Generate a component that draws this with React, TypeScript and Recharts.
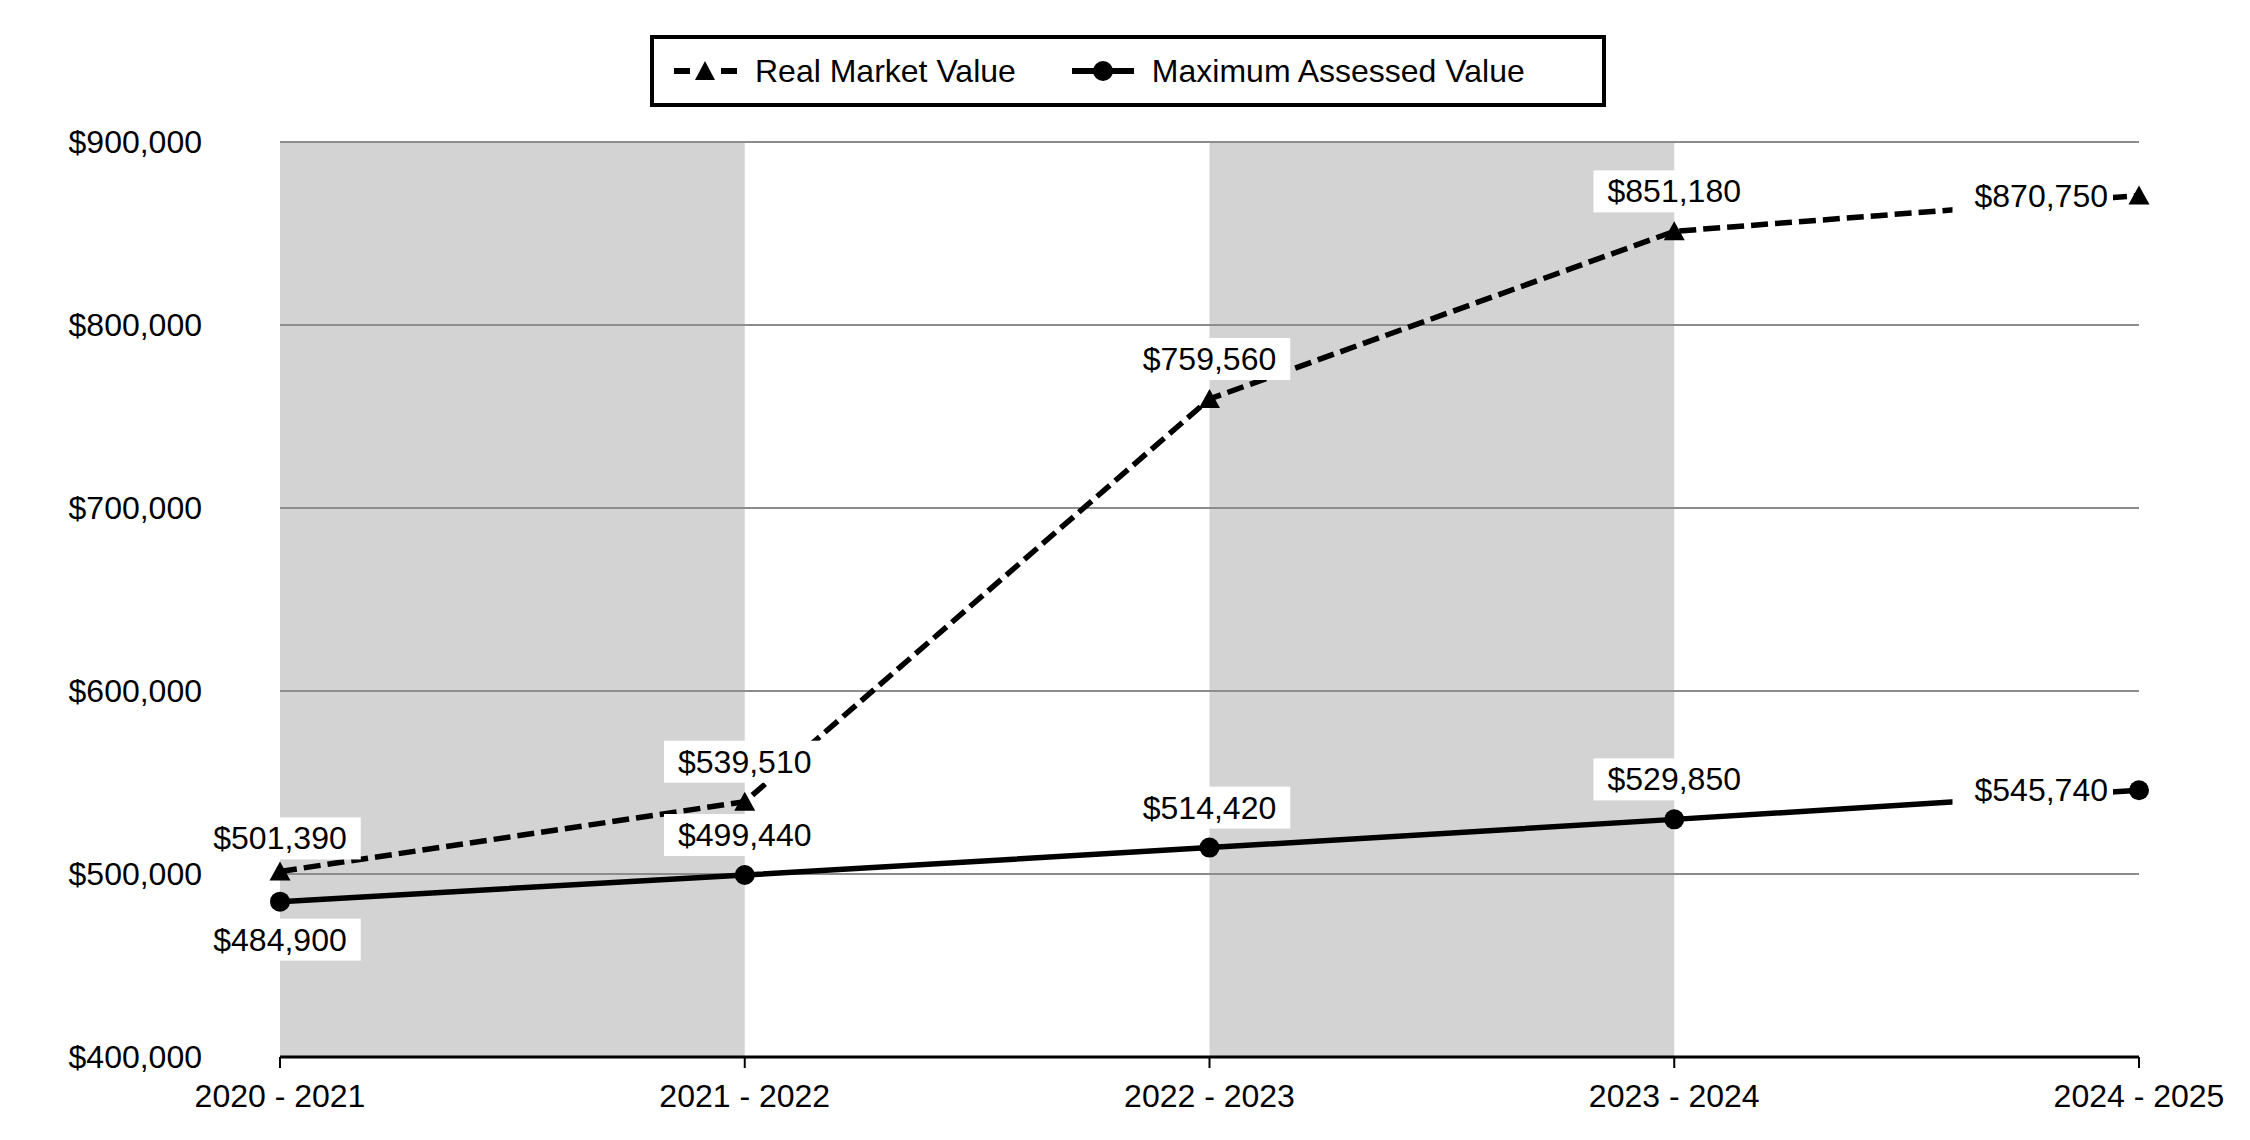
import React from 'react'
import { LineChart, Line, XAxis, YAxis, ReferenceArea, ReferenceLine, LabelList } from 'recharts'

const categories = ['2020 - 2021', '2021 - 2022', '2022 - 2023', '2023 - 2024', '2024 - 2025']
const realMarketValue = [501390, 539510, 759560, 851180, 870750]
const maxAssessedValue = [484900, 499440, 514420, 529850, 545740]
const yTicks = [400000, 500000, 600000, 700000, 800000, 900000]
const shadedBands = [
  ['2020 - 2021', '2021 - 2022'],
  ['2022 - 2023', '2023 - 2024'],
]
const seriesNames = { rmv: 'Real Market Value', mav: 'Maximum Assessed Value' }

const data = categories.map((period, i) => ({
  period,
  rmv: realMarketValue[i],
  mav: maxAssessedValue[i],
}))

const FONT = '"Liberation Sans", Arial, Helvetica, sans-serif'
const money = (v: number) => '$' + Number(v).toLocaleString('en-US')

// rough Arial widths at 32px
const textWidth = (s: string) =>
  s.split('').reduce((w, ch) => w + (ch === ',' ? 8.9 : 17.8), 0)

function Triangle(props: any) {
  const { cx, cy, index } = props
  if (cx == null || cy == null) return null
  return (
    <polygon
      key={'t' + index}
      points={`${cx},${cy - 10} ${cx + 10.5},${cy + 9} ${cx - 10.5},${cy + 9}`}
      fill="#000"
    />
  )
}

function Circle(props: any) {
  const { cx, cy, index } = props
  if (cx == null || cy == null) return null
  return <circle key={'c' + index} cx={cx} cy={cy} r={10} fill="#000" />
}

function ValueLabel(props: any) {
  const { x, y, value, index, series } = props
  const label = money(value)
  const w = textWidth(label)
  const last = index === categories.length - 1
  let cx = x
  let cy = y - 40
  let boxL = cx - w / 2 - 14
  let boxR = cx + w / 2 + 14
  if (last) {
    cy = y
    const right = x - 31
    cx = right - w / 2
    boxL = right - w - 22
    boxR = right + 5
  } else if (series === 'mav' && index === 0) {
    cy = y + 38
  } else if (series === 'rmv' && index === 0) {
    cy = y - 33
  }
  return (
    <g>
      <rect x={boxL} y={cy - 21} width={boxR - boxL} height={42} fill="#fff" />
      <text
        x={cx}
        y={cy}
        textAnchor="middle"
        dominantBaseline="central"
        fontSize={32}
        fontFamily={FONT}
        fill="#000"
      >
        {label}
      </text>
    </g>
  )
}

function LegendBox() {
  const item = (icon: React.ReactNode, text: string, gap: number) => (
    <div style={{ display: 'flex', alignItems: 'center', marginRight: gap }}>
      {icon}
      <span style={{ marginLeft: 18 }}>{text}</span>
    </div>
  )
  return (
    <div
      style={{
        position: 'absolute', left: 650, top: 35, width: 956, height: 72,
        boxSizing: 'border-box', border: '4px solid #000', background: '#fff',
        display: 'flex', alignItems: 'center', paddingLeft: 20,
        fontFamily: FONT, fontSize: 32, color: '#000', whiteSpace: 'nowrap',
      }}
    >
      {item(
        <svg width={63} height={30}>
          <rect x={0} y={12} width={16} height={6} fill="#000" />
          <polygon points="31,5 41,24 21,24" fill="#000" />
          <rect x={47} y={12} width={16} height={6} fill="#000" />
        </svg>,
        seriesNames.rmv, 56
      )}
      {item(
        <svg width={62} height={30}>
          <rect x={0} y={12} width={62} height={6} fill="#000" />
          <circle cx={31} cy={15} r={10} fill="#000" />
        </svg>,
        seriesNames.mav, 0
      )}
    </div>
  )
}

export default function App() {
  return (
    <div style={{ position: 'absolute', left: 0, top: 0, width: 2250, height: 1140, background: '#fff' }}>
      <LegendBox />
      <LineChart
        width={2250}
        height={1140}
        data={data}
        margin={{ top: 142, right: 111, bottom: 23, left: 0 }}
      >
        {shadedBands.map(([a, b]) => (
          <ReferenceArea key={a} x1={a} x2={b} fill="#d3d3d3" fillOpacity={1} stroke="none" />
        ))}
        {yTicks.slice(1).map((v) => (
          <ReferenceLine key={v} y={v} stroke="#8c8c8c" strokeWidth={2} />
        ))}
        <XAxis
          dataKey="period"
          interval={0}
          height={60}
          tickSize={11}
          tickMargin={16}
          axisLine={{ stroke: '#000', strokeWidth: 3 }}
          tickLine={{ stroke: '#000', strokeWidth: 2 }}
          tick={{ fill: '#000', fontSize: 32, fontFamily: FONT }}
        />
        <YAxis
          type="number"
          width={280}
          domain={[400000, 900000]}
          ticks={yTicks}
          tickFormatter={money}
          axisLine={false}
          tickLine={false}
          tickSize={0}
          tickMargin={78}
          tick={{ fill: '#000', fontSize: 32, fontFamily: FONT }}
        />
        <Line
          dataKey="rmv"
          name={seriesNames.rmv}
          stroke="#000"
          strokeWidth={5.5}
          strokeDasharray="17 7"
          dot={Triangle}
          activeDot={false}
          isAnimationActive={false}
        >
          <LabelList dataKey="rmv" content={(p: any) => <ValueLabel {...p} series="rmv" />} />
        </Line>
        <Line
          dataKey="mav"
          name={seriesNames.mav}
          stroke="#000"
          strokeWidth={5.5}
          dot={Circle}
          activeDot={false}
          isAnimationActive={false}
        >
          <LabelList dataKey="mav" content={(p: any) => <ValueLabel {...p} series="mav" />} />
        </Line>
      </LineChart>
    </div>
  )
}
